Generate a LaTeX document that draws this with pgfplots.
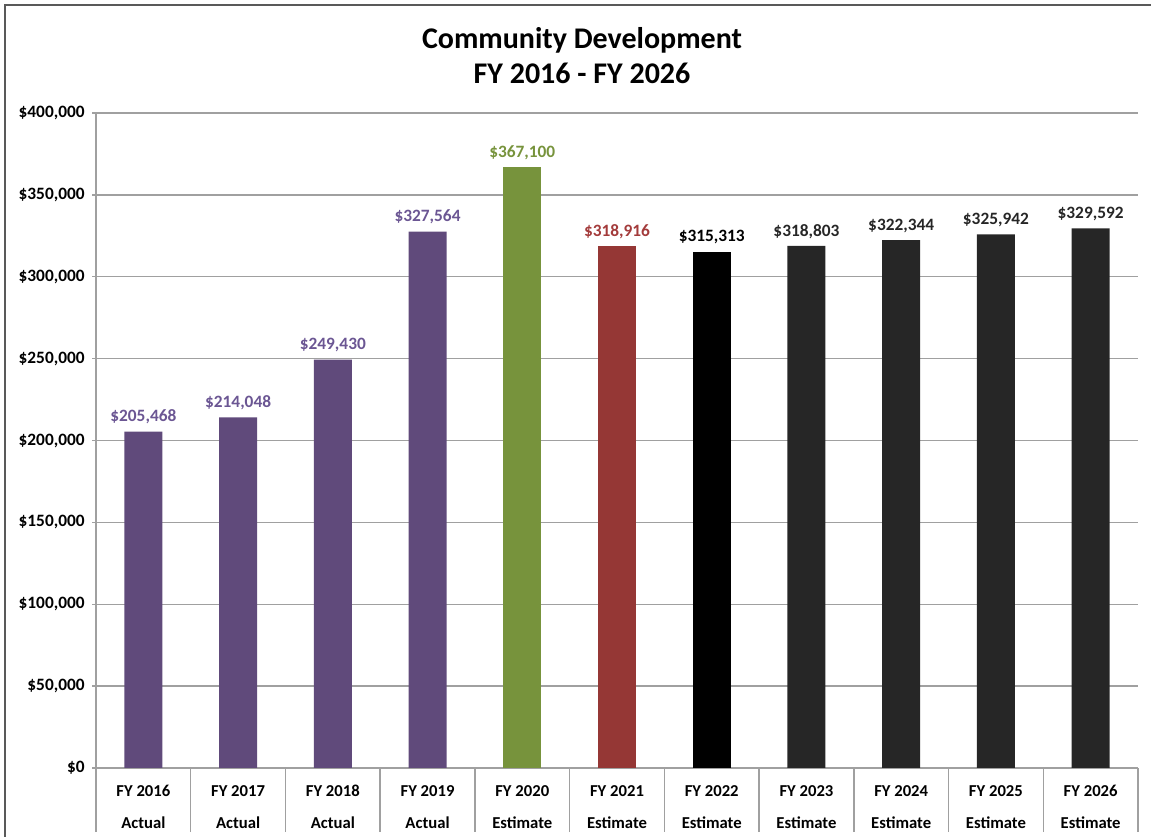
\documentclass[border=0pt]{standalone}
\usepackage{pgfplots}
\pgfplotsset{compat=1.18}
\usepackage{fontspec}
\setmainfont{Carlito}
\definecolor{cpurple}{HTML}{604A7B}
\definecolor{lpurple}{HTML}{6B5693}
\definecolor{cgreen}{HTML}{77933C}
\definecolor{cred}{HTML}{953735}
\definecolor{lred}{HTML}{A33B3B}
\definecolor{cdark}{HTML}{262626}
\definecolor{gridgray}{HTML}{A0A0A0}
\definecolor{framegray}{HTML}{595959}
\begin{document}
\begin{tikzpicture}[x=1pt,y=1pt]
\useasboundingbox (0,0) rectangle (863.25,627.75);
\draw[color=framegray, line width=1.5pt] (3.75,0) -- (3.75,624) -- (863.25,624);
\node[font=\bfseries\fontsize{22.5}{26}\selectfont, align=center] at (436.5,586) {Community Development\\FY 2016 - FY 2026};
\begin{axis}[
  at={(72pt,51.75pt)}, anchor=south west,
  scale only axis, width=781.5pt, height=491.25pt,
  xmin=-0.5, xmax=10.5, ymin=0, ymax=400000,
  ytick={0,50000,...,400000},
  scaled y ticks=false,
  yticklabel={\$\pgfmathprintnumber{\tick}},
  /pgf/number format/.cd, 1000 sep={,}, assume math mode=true, fixed, precision=0,
  /pgfplots/.cd,
  ymajorgrids, grid style={gridgray, line width=1.1pt},
  axis line style={gridgray, line width=1.1pt},
  axis x line*=bottom, axis y line*=left,
  y axis line style={-}, x axis line style={-},
  ytick style={gridgray, line width=1.1pt},
  tick align=outside, major tick length=3pt,
  xtick={0,...,10},
  xtick style={draw=none},
  xticklabels={{\strut FY 2016\\\strut Actual},{\strut FY 2017\\\strut Actual},{\strut FY 2018\\\strut Actual},{\strut FY 2019\\\strut Actual},{\strut FY 2020\\\strut Estimate},{\strut FY 2021\\\strut Estimate},{\strut FY 2022\\\strut Estimate},{\strut FY 2023\\\strut Estimate},{\strut FY 2024\\\strut Estimate},{\strut FY 2025\\\strut Estimate},{\strut FY 2026\\\strut Estimate}},
  xticklabel style={align=center, font=\bfseries\fontsize{12.5}{24}\selectfont, yshift=2pt},
  yticklabel style={font=\bfseries\fontsize{13}{15}\selectfont, xshift=-2pt},
  extra x ticks={-0.5,0.5,...,10.5},
  extra x tick labels={},
  extra x tick style={grid=none, tick align=outside, major tick length=48pt, xtick style={draw=gridgray, line width=1.1pt}},
  ybar, bar width=28.5pt, bar shift=0pt,
  point meta=explicit symbolic,
  nodes near coords,
  every node near coord/.append style={font=\bfseries\fontsize{13}{15}\selectfont, anchor=south, yshift=2pt},
  clip=false,
]
\addplot[fill=cpurple, draw=none, every node near coord/.append style={text=lpurple}] coordinates {
 (0,205468) [\$205,468]
 (1,214048) [\$214,048]
 (2,249430) [\$249,430]
 (3,327564) [\$327,564]
};
\addplot[fill=cgreen, draw=none, every node near coord/.append style={text=cgreen}] coordinates {
 (4,367100) [\$367,100]
};
\addplot[fill=cred, draw=none, every node near coord/.append style={text=lred}] coordinates {
 (5,318916) [\$318,916]
};
\addplot[fill=black, draw=none, every node near coord/.append style={text=black}] coordinates {
 (6,315313) [\$315,313]
};
\addplot[fill=cdark, draw=none, every node near coord/.append style={text=cdark}] coordinates {
 (7,318803) [\$318,803]
 (8,322344) [\$322,344]
 (9,325942) [\$325,942]
 (10,329592) [\$329,592]
};
\end{axis}
\end{tikzpicture}
\end{document}
